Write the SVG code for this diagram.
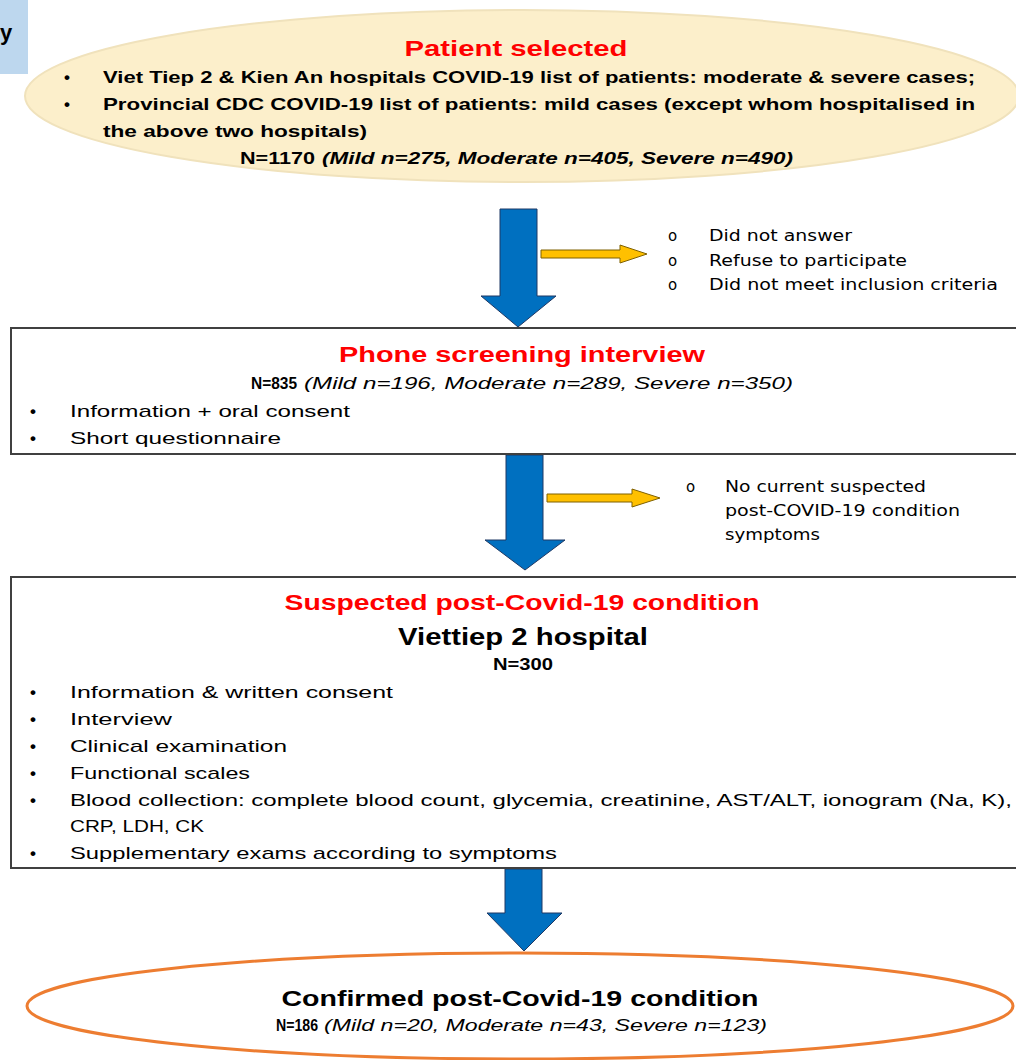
<svg xmlns="http://www.w3.org/2000/svg" width="1016" height="1060" viewBox="0 0 1016 1060">
<defs>
<style>
.title{font-family:"Liberation Sans",Arial,sans-serif;font-weight:bold;font-size:22px;fill:#FF0000;}
.btxt{font-family:"Liberation Sans",Arial,sans-serif;font-weight:bold;font-size:17px;fill:#000;}
.txt{font-family:"Liberation Sans",Arial,sans-serif;font-size:17px;fill:#000;}
.nb{font-family:"Liberation Sans",Arial,sans-serif;font-weight:bold;font-size:16px;fill:#000;}
.ni{font-family:"Liberation Sans",Arial,sans-serif;font-style:italic;font-size:16px;fill:#000;}
.nbi{font-family:"Liberation Sans",Arial,sans-serif;font-style:italic;font-weight:bold;font-size:16px;fill:#000;}
.lst{font-family:"DejaVu Sans",Verdana,sans-serif;font-size:15px;fill:#000;}
.box{fill:#fff;stroke:#404040;stroke-width:2;}
.down{fill:#0070C0;stroke:#1F3864;stroke-width:1;}
.side{fill:#FFC000;stroke:#7F6000;stroke-width:1;}
.bul{font-family:"Liberation Sans",Arial,sans-serif;font-size:17px;font-weight:bold;fill:#000;}
</style>
</defs>
<rect x="0" y="0" width="28" height="74" fill="#BDD7EE"/>
<text x="0" y="40" font-family="Liberation Sans,Arial,sans-serif" font-weight="bold" font-size="22" fill="#000">y</text>

<g id="connectors">
<polygon class="down" points="500,209 537,209 537,296 556,296 518,327 481,296 500,296"/>
<polygon class="side" points="541,250 620,250 620,245 647,254 620,263 620,258 541,258"/>
<polygon class="down" points="506,455 543,455 543,540 565,540 525,570 485,540 506,540"/>
<polygon class="side" points="547,494 632,494 632,489 660,498 632,507 632,502 547,502"/>
<polygon class="down" points="505,869 542,869 542,913 562,913 524,951 487,913 505,913"/>
</g>

<g id="patient-selected">
<ellipse cx="522" cy="96" rx="497" ry="86" fill="#FCEFCB" stroke="#F0E2BC" stroke-width="2"/>
<text class="title" x="516" y="56" text-anchor="middle" textLength="223" lengthAdjust="spacingAndGlyphs">Patient selected</text>
<text class="bul" x="64" y="83">•</text>
<text class="btxt" x="103" y="83" textLength="872" lengthAdjust="spacingAndGlyphs">Viet Tiep 2 &amp; Kien An hospitals COVID-19 list of patients: moderate &amp; severe cases;</text>
<text class="bul" x="64" y="110">•</text>
<text class="btxt" x="103" y="110" textLength="872" lengthAdjust="spacingAndGlyphs">Provincial CDC COVID-19 list of patients: mild cases (except whom hospitalised in</text>
<text class="btxt" x="103" y="137" textLength="264" lengthAdjust="spacingAndGlyphs">the above two hospitals)</text>
<text class="nb" x="240" y="164" textLength="75" lengthAdjust="spacingAndGlyphs">N=1170</text>
<text class="nbi" x="322" y="164" textLength="471" lengthAdjust="spacingAndGlyphs">(Mild n=275, Moderate n=405, Severe n=490)</text>
</g>

<g id="excluded-1">
<text class="lst" x="668" y="241">o</text>
<text class="lst" x="709" y="241" textLength="143" lengthAdjust="spacingAndGlyphs">Did not answer</text>
<text class="lst" x="668" y="266">o</text>
<text class="lst" x="709" y="266" textLength="198" lengthAdjust="spacingAndGlyphs">Refuse to participate</text>
<text class="lst" x="668" y="290">o</text>
<text class="lst" x="709" y="290" textLength="289" lengthAdjust="spacingAndGlyphs">Did not meet inclusion criteria</text>
</g>

<g id="phone-screening">
<rect class="box" x="11" y="328" width="1015" height="126"/>
<text class="title" x="522" y="362" text-anchor="middle" textLength="366" lengthAdjust="spacingAndGlyphs">Phone screening interview</text>
<text class="nb" x="251" y="389" textLength="46" lengthAdjust="spacingAndGlyphs">N=835</text>
<text class="ni" x="304" y="389" textLength="489" lengthAdjust="spacingAndGlyphs">(Mild n=196, Moderate n=289, Severe n=350)</text>
<text class="bul" x="30" y="417">•</text>
<text class="txt" x="70" y="417" textLength="280" lengthAdjust="spacingAndGlyphs">Information + oral consent</text>
<text class="bul" x="30" y="444">•</text>
<text class="txt" x="70" y="444" textLength="211" lengthAdjust="spacingAndGlyphs">Short questionnaire</text>
</g>

<g id="excluded-2">
<text class="lst" x="686" y="492">o</text>
<text class="lst" x="725" y="492" textLength="201" lengthAdjust="spacingAndGlyphs">No current suspected</text>
<text class="lst" x="725" y="516" textLength="235" lengthAdjust="spacingAndGlyphs">post-COVID-19 condition</text>
<text class="lst" x="725" y="540" textLength="95" lengthAdjust="spacingAndGlyphs">symptoms</text>
</g>

<g id="suspected">
<rect class="box" x="11" y="577" width="1015" height="291"/>
<text class="title" x="522" y="610" text-anchor="middle" textLength="475" lengthAdjust="spacingAndGlyphs">Suspected post-Covid-19 condition</text>
<text x="523" y="645" text-anchor="middle" font-family="Liberation Sans,Arial,sans-serif" font-weight="bold" font-size="24" fill="#000" textLength="250" lengthAdjust="spacingAndGlyphs">Viettiep 2 hospital</text>
<text class="nb" x="523" y="670" text-anchor="middle" textLength="60" lengthAdjust="spacingAndGlyphs">N=300</text>
<text class="bul" x="30" y="698">•</text>
<text class="txt" x="70" y="698" textLength="323" lengthAdjust="spacingAndGlyphs">Information &amp; written consent</text>
<text class="bul" x="30" y="725">•</text>
<text class="txt" x="70" y="725" textLength="102" lengthAdjust="spacingAndGlyphs">Interview</text>
<text class="bul" x="30" y="752">•</text>
<text class="txt" x="70" y="752" textLength="217" lengthAdjust="spacingAndGlyphs">Clinical examination</text>
<text class="bul" x="30" y="779">•</text>
<text class="txt" x="70" y="779" textLength="180" lengthAdjust="spacingAndGlyphs">Functional scales</text>
<text class="bul" x="30" y="806">•</text>
<text class="txt" x="70" y="806" textLength="942" lengthAdjust="spacingAndGlyphs">Blood collection: complete blood count, glycemia, creatinine, AST/ALT, ionogram (Na, K),</text>
<text class="txt" x="70" y="832" textLength="134" lengthAdjust="spacingAndGlyphs">CRP, LDH, CK</text>
<text class="bul" x="30" y="859">•</text>
<text class="txt" x="70" y="859" textLength="487" lengthAdjust="spacingAndGlyphs">Supplementary exams according to symptoms</text>
</g>

<g id="confirmed">
<ellipse cx="520" cy="1006" rx="493" ry="53" fill="#fff" stroke="#ED7D31" stroke-width="3"/>
<text x="520" y="1006" text-anchor="middle" font-family="Liberation Sans,Arial,sans-serif" font-weight="bold" font-size="22" fill="#000" textLength="477" lengthAdjust="spacingAndGlyphs">Confirmed post-Covid-19 condition</text>
<text class="nb" x="276" y="1031" font-size="15" textLength="42" lengthAdjust="spacingAndGlyphs">N=186</text>
<text class="ni" x="324" y="1031" font-size="15" textLength="443" lengthAdjust="spacingAndGlyphs">(Mild n=20, Moderate n=43, Severe n=123)</text>
</g>
</svg>
